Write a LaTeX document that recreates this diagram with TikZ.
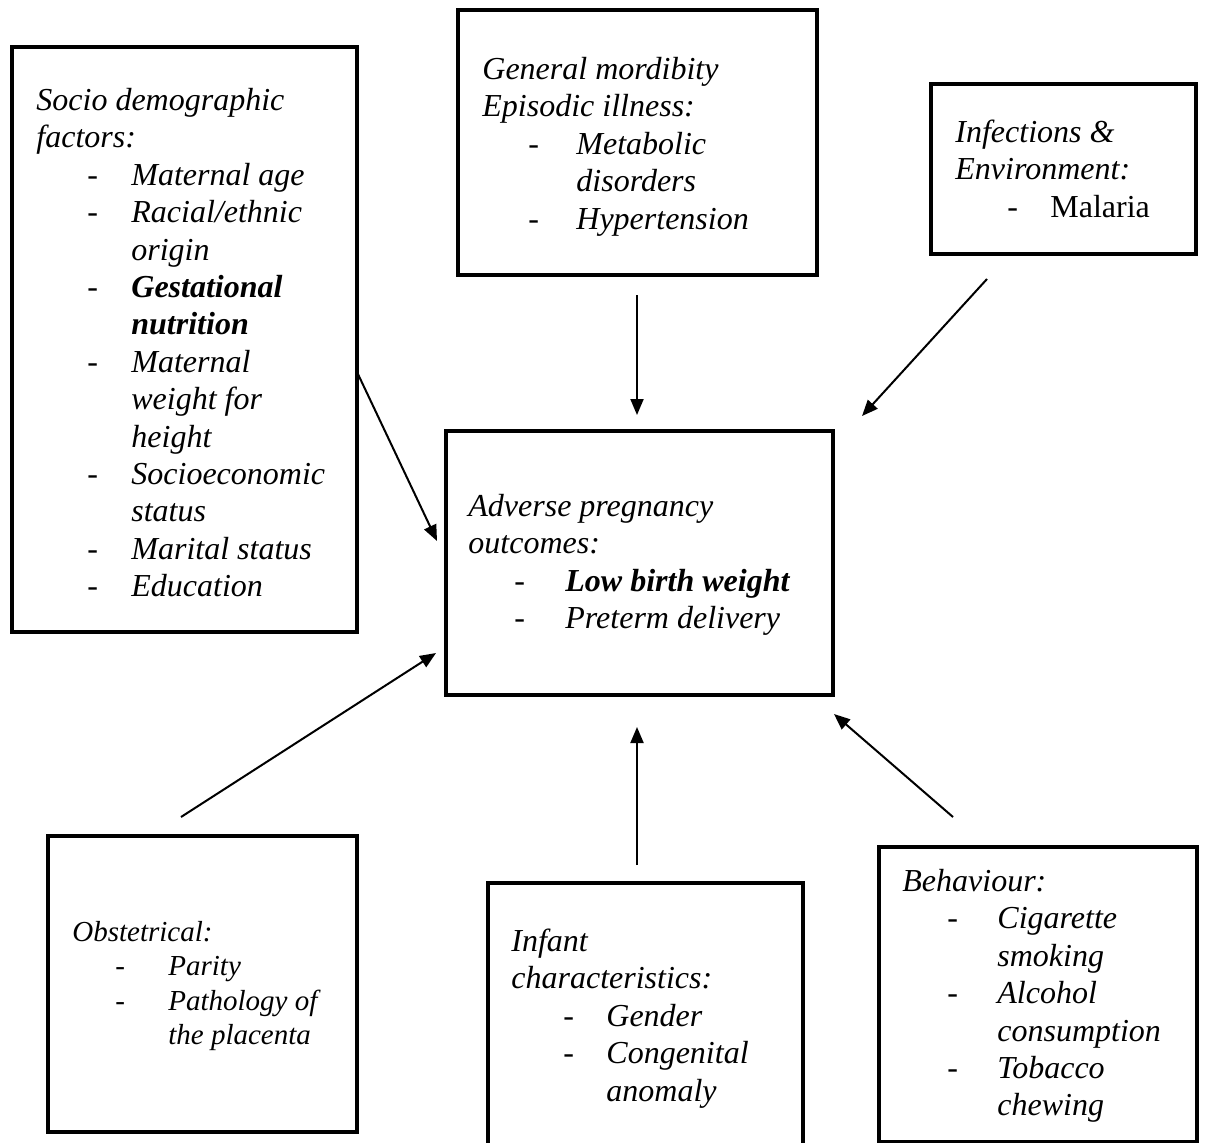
\documentclass[tikz,border=0pt]{standalone}
\usepackage{fontspec}
\setmainfont{Liberation Serif}
\usetikzlibrary{arrows.meta}
\newcommand\dsh[3]{\hspace*{#1}\makebox[\dimexpr #2-#1\relax][l]{\upshape -}#3}
\newcommand\cnt[2]{\hspace*{#1}#2}
\newcommand\fst{\rule{0pt}{12pt}}
\newcommand\fsts{\rule{0pt}{11pt}}
\begin{document}
\begin{tikzpicture}[x=0.5pt,y=-0.5pt,
  box/.style={draw, line width=2pt, outer sep=0pt, inner sep=0pt, anchor=north west},
  txt/.style={anchor=north west, inner sep=0pt, align=left, font=\fontsize{16}{18.7}\selectfont\itshape},
  txtsm/.style={anchor=north west, inner sep=0pt, align=left, font=\fontsize{14.5}{17.2}\selectfont\itshape},
  arr/.style={line width=1pt, -{Triangle[length=8pt,width=6.5pt]}}]
\useasboundingbox (0,0) rectangle (1208,1142);
\clip (0,0) rectangle (1208,1142);
% boxes
\node[box, minimum width=172.5pt, minimum height=292.5pt] (socio) at (12,47) {};
\node[box, minimum width=179.5pt, minimum height=132.5pt] (gen) at (458,10) {};
\node[box, minimum width=132.5pt, minimum height=85pt] (inf) at (931,84) {};
\node[box, minimum width=193.5pt, minimum height=132pt] (apo) at (446,431) {};
\node[box, minimum width=154.5pt, minimum height=148pt] (obs) at (48,836) {};
\node[box, minimum width=157.5pt, minimum height=140pt] (infant) at (488,883) {};
\node[box, minimum width=159pt, minimum height=147.5pt] (beh) at (879,847) {};
% texts (y = first baseline - 24)
\node[txt] (sociot) at (36,86) {\fst Socio demographic\\
factors:\\
\dsh{25.5pt}{47.5pt}{Maternal age}\\
\dsh{25.5pt}{47.5pt}{Racial/ethnic}\\
\cnt{47.5pt}{origin}\\
\dsh{25.5pt}{47.5pt}{\bfseries Gestational}\\
\cnt{47.5pt}{\bfseries nutrition}\\
\dsh{25.5pt}{47.5pt}{Maternal}\\
\cnt{47.5pt}{weight for}\\
\cnt{47.5pt}{height}\\
\dsh{25.5pt}{47.5pt}{Socioeconomic}\\
\cnt{47.5pt}{status}\\
\dsh{25.5pt}{47.5pt}{Marital status}\\
\dsh{25.5pt}{47.5pt}{Education}};
\node[txt] (gent) at (482,55) {\fst General mordibity\\
Episodic illness:\\
\dsh{23pt}{47pt}{Metabolic}\\
\cnt{47pt}{disorders}\\
\dsh{23pt}{47pt}{Hypertension}};
\node[txt] (inft) at (955,118) {\fst Infections \&\\
Environment:\\
\dsh{26pt}{47.5pt}{\upshape Malaria}};
\node[txt] (apot) at (468,492) {\fst Adverse pregnancy\\
outcomes:\\
\dsh{23pt}{48.5pt}{\bfseries Low birth weight}\\
\dsh{23pt}{48.5pt}{Preterm delivery}};
\node[txtsm] (obst) at (72,919) {\fsts Obstetrical:\\
\dsh{21.5pt}{48pt}{Parity}\\
\dsh{21.5pt}{48pt}{Pathology of}\\
\cnt{48pt}{the placenta}};
\node[txt] (infantt) at (511,927) {\fst Infant\\
characteristics:\\
\dsh{26pt}{47.5pt}{Gender}\\
\dsh{26pt}{47.5pt}{Congenital}\\
\cnt{47.5pt}{anomaly}};
\node[txt] (beht) at (902,867) {\fst Behaviour:\\
\dsh{22.5pt}{47.5pt}{Cigarette}\\
\cnt{47.5pt}{smoking}\\
\dsh{22.5pt}{47.5pt}{Alcohol}\\
\cnt{47.5pt}{consumption}\\
\dsh{22.5pt}{47.5pt}{Tobacco}\\
\cnt{47.5pt}{chewing}};
% connector end points
\coordinate (s1) at (357,372); \coordinate (e1) at (437,541);
\coordinate (s2) at (637,295); \coordinate (e2) at (637,415);
\coordinate (s3) at (987,279); \coordinate (e3) at (862,416);
\coordinate (s4) at (181,817); \coordinate (e4) at (436,653);
\coordinate (s5) at (637,865); \coordinate (e5) at (637,727);
\coordinate (s6) at (953,817); \coordinate (e6) at (834,714);
\draw[arr] (s1) -- (e1);
\draw[arr] (s2) -- (e2);
\draw[arr] (s3) -- (e3);
\draw[arr] (s4) -- (e4);
\draw[arr] (s5) -- (e5);
\draw[arr] (s6) -- (e6);
\end{tikzpicture}
\end{document}
